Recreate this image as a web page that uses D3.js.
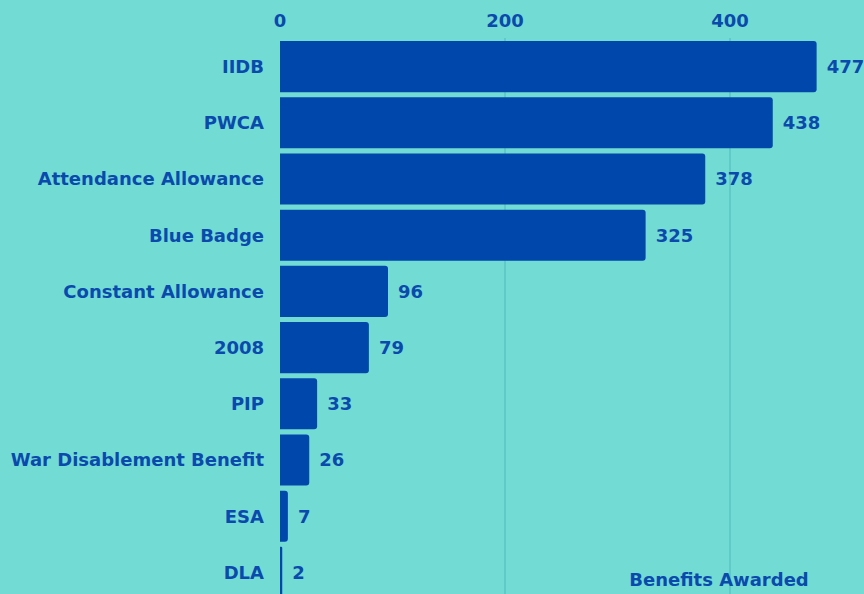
<!DOCTYPE html>
<html><head><meta charset="utf-8">
<script src="https://cdn.jsdelivr.net/npm/d3@7/dist/d3.min.js"></script>
<style>
html,body{margin:0;padding:0;background:#72dcd4;}
svg{display:block;}
text{font-family:"DejaVu Sans",sans-serif;font-weight:700;fill:#0a4aac;}
</style></head>
<body>
<svg id="chart" width="864" height="594"></svg>
<script>
const categories = ["IIDB","PWCA","Attendance Allowance","Blue Badge","Constant Allowance","2008","PIP","War Disablement Benefit","ESA","DLA"];
const values = [477,438,378,325,96,79,33,26,7,2];
const tickValues = [0,200,400];
const axisTitle = "Benefits Awarded";

const svg = d3.select("#chart");
const W = 864, H = 594;
const x = d3.scaleLinear().domain([0,400]).range([280,730]);
const y = d3.scaleBand().domain(categories).range([38.5,600.5]).paddingInner(0.09).paddingOuter(0.045);

svg.append("g").selectAll("line").data(tickValues.filter(d=>d>0)).join("line")
  .attr("x1",d=>x(d)).attr("x2",d=>x(d)).attr("y1",38).attr("y2",H)
  .attr("stroke","#4fb8bd").attr("stroke-width",1);

svg.append("g").selectAll("text").data(tickValues).join("text")
  .attr("x",d=>x(d)).attr("y",27).attr("text-anchor","middle")
  .style("font-size","18px").text(d=>d);

const r = 3;
function barPath(d,i){
  const x0 = x(0), x1 = x(values[i]), y0 = y(d), h = y.bandwidth();
  const rr = Math.min(r, (x1-x0)/2);
  return `M${x0},${y0}H${x1-rr}Q${x1},${y0} ${x1},${y0+rr}V${y0+h-rr}Q${x1},${y0+h} ${x1-rr},${y0+h}H${x0}Z`;
}
svg.append("g").selectAll("path").data(categories).join("path")
  .attr("d",barPath).attr("fill","#0047ab");

svg.append("g").selectAll("text").data(categories).join("text")
  .attr("x",264).attr("y",d=>y(d)+y.bandwidth()/2).attr("dy","0.36em")
  .attr("text-anchor","end").style("font-size","18px").text(d=>d);

svg.append("g").selectAll("text").data(categories).join("text")
  .attr("x",(d,i)=>x(values[i])+10).attr("y",d=>y(d)+y.bandwidth()/2).attr("dy","0.36em")
  .style("font-size","18px").text((d,i)=>values[i]);

svg.append("text").attr("x",719).attr("y",586).attr("text-anchor","middle")
  .style("font-size","18px").text(axisTitle);
</script>
</body></html>
